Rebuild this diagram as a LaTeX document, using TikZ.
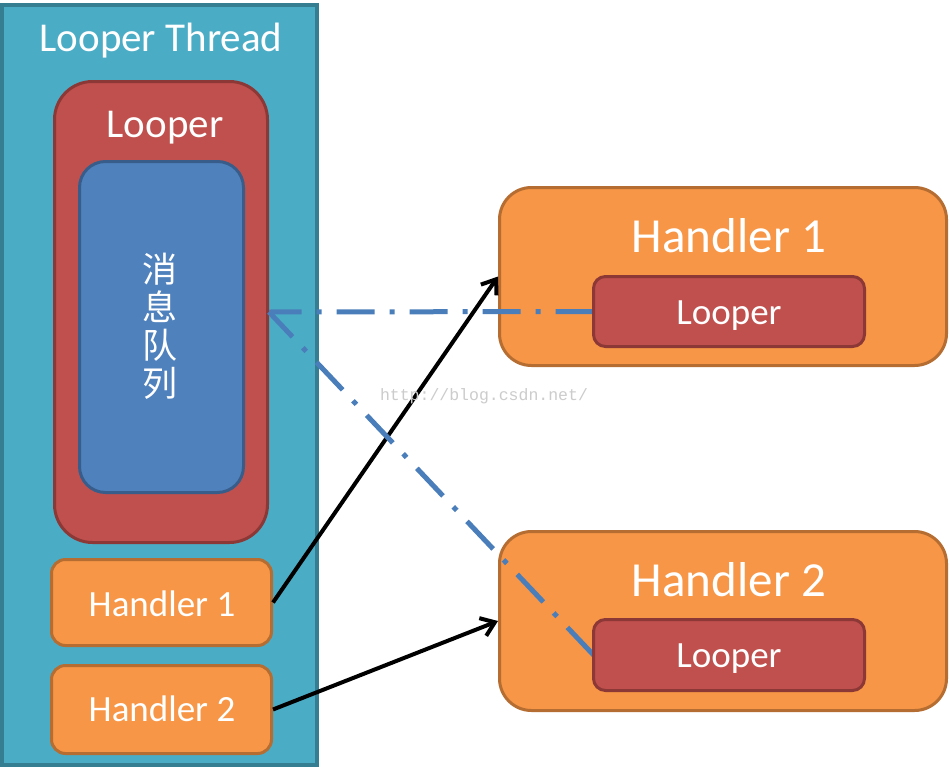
\documentclass[tikz,border=0pt]{standalone}
\usepackage{fontspec}
\setmainfont{Carlito}
\newfontfamily\cjk{Noto Sans CJK SC}
\newfontfamily\wmfont{Liberation Mono}
\usetikzlibrary{arrows.meta}
\definecolor{tealfill}{HTML}{4BACC6}
\definecolor{tealline}{HTML}{357D91}
\definecolor{redfill}{HTML}{C0504D}
\definecolor{redline}{HTML}{8C3836}
\definecolor{bluefill}{HTML}{4F81BD}
\definecolor{blueline}{HTML}{385D8A}
\definecolor{orangefill}{HTML}{F79646}
\definecolor{orangeline}{HTML}{B66D31}
\definecolor{dashblue}{HTML}{4A7EBB}
\tikzset{
  shape box/.style={draw, inner sep=0pt, line width=3pt},
  threadbox/.style={shape box, rectangle, fill=tealfill, draw=tealline, line width=4pt},
  redbox/.style={shape box, rectangle, rounded corners=#1, fill=redfill, draw=redline},
  bluebox/.style={shape box, rectangle, rounded corners=#1, fill=bluefill, draw=blueline},
  orangebox/.style={shape box, rectangle, rounded corners=#1, fill=orangefill, draw=orangeline},
  lbl/.style={anchor=base, text=white, inner sep=0pt},
  msgarrow/.style={draw=black, line width=4pt, -{Straight Barb[length=13pt,width=19pt]}},
  dashdot line/.style={draw=dashblue, line width=5pt, dash pattern=on 38pt off 15pt on 5pt off 15pt}
}
\begin{document}
\begin{tikzpicture}[x=1pt,y=-1pt]
\useasboundingbox (0,0) rectangle (950,768);
\fill[white] (0,0) rectangle (950,768);

% Looper Thread
\node[threadbox, minimum width=315pt, minimum height=760pt] (thread) at (159.5,385) {};
\node[lbl, font=\fontsize{41}{41}\selectfont] (threadlbl) at (161,52) {Looper Thread};

% Looper (red) with message queue
\node[redbox=38pt, minimum width=213pt, minimum height=461pt] (loopred) at (161,312) {};
\node[lbl, font=\fontsize{41}{41}\selectfont] (loopredlbl) at (165,137) {Looper};
\node[bluebox=26pt, minimum width=164pt, minimum height=331pt] (queue) at (161.5,327) {};
\node[text=white, inner sep=0pt, align=center, font=\cjk\fontsize{35}{38}\selectfont] (queuelbl) at (160,326) {消\\息\\队\\列};

% small handlers
\node[orangebox=14pt, minimum width=220pt, minimum height=86pt] (sh1) at (161.5,602.5) {};
\node[lbl, font=\fontsize{37}{37}\selectfont] (sh1lbl) at (162,616) {Handler 1};
\node[orangebox=14pt, minimum width=220pt, minimum height=88pt] (sh2) at (161.5,709.5) {};
\node[lbl, font=\fontsize{37}{37}\selectfont] (sh2lbl) at (162,721) {Handler 2};

% big handlers
\node[orangebox=32pt, minimum width=447pt, minimum height=178pt] (bh1) at (723,276.5) {};
\node[lbl, font=\fontsize{49}{49}\selectfont] (bh1lbl) at (729,252) {Handler 1};
\node[orangebox=32pt, minimum width=447pt, minimum height=179pt] (bh2) at (723,621) {};
\node[lbl, font=\fontsize{49}{49}\selectfont] (bh2lbl) at (729,596) {Handler 2};

% black arrows
\draw[msgarrow] (sh1.east) -- (bh1.west);
\draw[msgarrow] (sh2.east) -- (bh2.west);

% dash-dot references
\coordinate (l1w) at (593.5,311.5);
\coordinate (l2w) at (593.5,655);
\draw[dashdot line] (l1w) -- (loopred.east);
\draw[dashdot line] (l2w) -- (loopred.east);

% inner loopers
\node[redbox=12pt, minimum width=271pt, minimum height=70pt] (il1) at (729,311.5) {};
\node[lbl, font=\fontsize{37}{37}\selectfont] (il1lbl) at (729,324) {Looper};
\node[redbox=12pt, minimum width=271pt, minimum height=71pt] (il2) at (729,655) {};
\node[lbl, font=\fontsize{37}{37}\selectfont] (il2lbl) at (729,667) {Looper};

% watermark
\node[anchor=base, inner sep=0pt, text=black!20, font=\wmfont\fontsize{16.5}{16.5}\selectfont] (wm) at (484,400) {http://blog.csdn.net/};
\end{tikzpicture}
\end{document}
